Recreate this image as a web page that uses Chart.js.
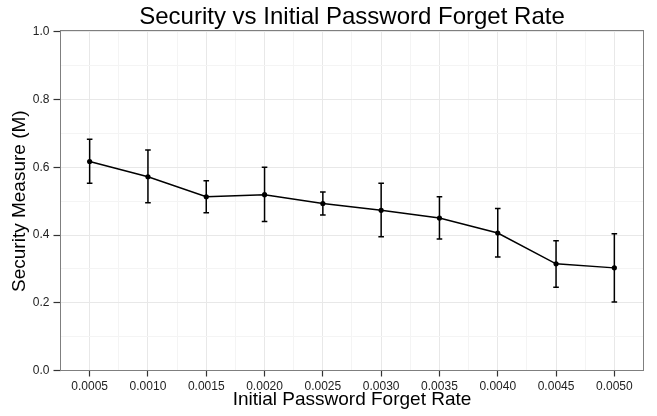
<!DOCTYPE html>
<html>
<head>
<meta charset="utf-8">
<script src="https://cdn.jsdelivr.net/npm/chart.js@4/dist/chart.umd.min.js"></script>
<style>
  html, body { margin: 0; padding: 0; background: #ffffff; }
  #c { display: block; }
</style>
</head>
<body>
<canvas id="c" width="657" height="416"></canvas>
<script>
// Initial password forget rate (x) and the resulting security measure M
const rateLabels = ['0.0005', '0.0010', '0.0015', '0.0020', '0.0025',
                    '0.0030', '0.0035', '0.0040', '0.0045', '0.0050'];
const meanSecurity  = [0.617, 0.572, 0.513, 0.519, 0.493, 0.473, 0.450, 0.406, 0.315, 0.303];
const upperSecurity = [0.683, 0.651, 0.560, 0.600, 0.527, 0.553, 0.513, 0.478, 0.383, 0.404];
const lowerSecurity = [0.553, 0.495, 0.466, 0.440, 0.459, 0.395, 0.388, 0.335, 0.246, 0.202];
const yTickLabels = ['0.0', '0.2', '0.4', '0.6', '0.8', '1.0'];

const rateValues = rateLabels.map(Number);
const FONT = "'Liberation Sans', Arial, Helvetica, sans-serif";

function rateIndex(v) {
  return rateValues.findIndex(r => Math.abs(r - v) < 1e-9);
}
function isMajorY(v) {
  return Math.round(v * 10) % 2 === 0;
}

// error bars (mean ± spread) drawn through the chart's own scales
const errorBars = {
  id: 'errorBars',
  afterDatasetsDraw(chart) {
    const { ctx, scales: { x, y } } = chart;
    ctx.save();
    ctx.strokeStyle = '#000000';
    ctx.lineWidth = 1.5;
    const cap = 2.8;
    rateValues.forEach((r, i) => {
      const px = x.getPixelForValue(r);
      const top = y.getPixelForValue(upperSecurity[i]);
      const bot = y.getPixelForValue(lowerSecurity[i]);
      ctx.beginPath();
      ctx.moveTo(px, top); ctx.lineTo(px, bot);
      ctx.moveTo(px - cap, top); ctx.lineTo(px + cap, top);
      ctx.moveTo(px - cap, bot); ctx.lineTo(px + cap, bot);
      ctx.stroke();
    });
    ctx.restore();
  }
};

// grey frame round the plotting panel
const panelBorder = {
  id: 'panelBorder',
  afterDraw(chart) {
    const { ctx, chartArea: a } = chart;
    ctx.save();
    ctx.strokeStyle = '#7f7f7f';
    ctx.lineWidth = 1;
    const x0 = Math.floor(a.left) + 0.5, x1 = Math.floor(a.right) + 0.5;
    const y0 = Math.floor(a.top) - 0.5, y1 = Math.floor(a.bottom) + 0.5;
    ctx.strokeRect(x0, y0, x1 - x0, y1 - y0);
    ctx.restore();
  }
};

new Chart(document.getElementById('c'), {
  type: 'line',
  data: {
    datasets: [{
      label: 'Security Measure (M)',
      data: rateValues.map((r, i) => ({ x: r, y: meanSecurity[i] })),
      borderColor: '#000000',
      backgroundColor: '#000000',
      borderWidth: 1.5,
      pointRadius: 2.6,
      pointBorderWidth: 0,
      pointBackgroundColor: '#000000',
      tension: 0,
      fill: false
    }]
  },
  options: {
    responsive: false,
    animation: false,
    devicePixelRatio: 1,
    layout: { padding: { left: 0, right: 13.5, top: 0, bottom: 0 } },
    plugins: {
      legend: { display: false },
      tooltip: { enabled: false },
      title: {
        display: true,
        text: 'Security vs Initial Password Forget Rate',
        fullSize: false,
        color: '#000000',
        font: { family: FONT, size: 24, weight: 'normal', lineHeight: 1.2 },
        padding: { top: 3, bottom: 0 }
      }
    },
    scales: {
      x: {
        type: 'linear',
        min: 0.00025,
        max: 0.00525,
        border: { display: false },
        grid: {
          color: ctx => rateIndex(ctx.tick.value) >= 0 ? '#e8e8e8' : '#f4f4f4',
          lineWidth: 1,
          drawTicks: true,
          tickLength: 6,
          tickColor: ctx => rateIndex(ctx.tick.value) >= 0 ? '#333333' : 'rgba(0,0,0,0)',
          tickWidth: 1.2
        },
        ticks: {
          stepSize: 0.00025,
          autoSkip: false,
          maxRotation: 0,
          minRotation: 0,
          padding: 3,
          color: '#222222',
          font: { family: FONT, size: 12 },
          callback: v => { const i = rateIndex(v); return i >= 0 ? rateLabels[i] : ''; }
        },
        title: {
          display: true,
          text: 'Initial Password Forget Rate',
          color: '#000000',
          font: { family: FONT, size: 19, lineHeight: 1.2 },
          padding: { top: 0, bottom: 5 }
        },
        afterFit: s => { s.height = 45.5; }
      },
      y: {
        type: 'linear',
        min: 0,
        max: 1,
        border: { display: false },
        grid: {
          color: ctx => isMajorY(ctx.tick.value) ? '#e8e8e8' : '#f4f4f4',
          lineWidth: 1,
          drawTicks: true,
          tickLength: 7,
          tickColor: ctx => isMajorY(ctx.tick.value) ? '#333333' : 'rgba(0,0,0,0)',
          tickWidth: 1.2
        },
        ticks: {
          stepSize: 0.1,
          autoSkip: false,
          padding: 4,
          color: '#222222',
          font: { family: FONT, size: 12 },
          callback: v => { const k = Math.round(v * 10); return k % 2 === 0 ? yTickLabels[k / 2] : ''; }
        },
        title: {
          display: true,
          text: 'Security Measure (M)',
          color: '#000000',
          font: { family: FONT, size: 19, lineHeight: 1.2 },
          padding: { top: 8, bottom: 0 }
        },
        afterFit: s => { s.width = 60.5; }
      }
    }
  },
  plugins: [errorBars, panelBorder]
});
</script>
</body>
</html>
